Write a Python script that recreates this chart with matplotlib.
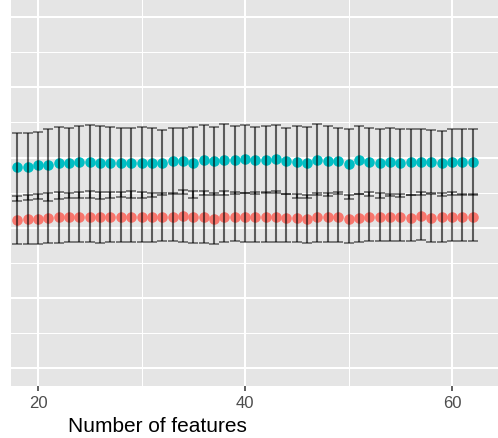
import matplotlib.pyplot as plt
import numpy as np

plt.rcParams['font.family'] = ['Liberation Sans', 'DejaVu Sans']

# number of features on the x axis
n_features = list(range(18, 63))

# cyan series (mean and sd)
cyan_mean = [0.786, 0.787, 0.789, 0.790, 0.792, 0.793, 0.794, 0.794, 0.793, 0.793, 0.793, 0.793, 0.793, 0.793, 0.793, 0.795,
             0.795, 0.793, 0.796, 0.795, 0.797, 0.796, 0.798, 0.796, 0.797, 0.798, 0.795, 0.794, 0.793, 0.797, 0.795,
             0.795, 0.791, 0.796, 0.794, 0.792, 0.794, 0.792, 0.794, 0.794, 0.794, 0.792, 0.794, 0.794, 0.794]
cyan_sd = [0.0484, 0.0479, 0.0474, 0.0512, 0.0512, 0.0498, 0.0512, 0.0517, 0.0517, 0.0503, 0.0493, 0.0498, 0.0503, 0.0488, 0.0469, 0.0474,
           0.0469, 0.0507, 0.0498, 0.0479, 0.0507, 0.0484, 0.0479, 0.0474, 0.0479, 0.0484, 0.0474, 0.0512, 0.0503, 0.0503, 0.0493,
           0.0474, 0.0498, 0.0484, 0.0484, 0.0488, 0.0488, 0.0484, 0.0474, 0.0474, 0.0450, 0.0465, 0.0465, 0.0469, 0.0465]

# red series (mean and sd)
red_mean = [0.711, 0.712, 0.713, 0.714, 0.715, 0.715, 0.715, 0.716, 0.715, 0.715, 0.715, 0.716, 0.715, 0.715, 0.715, 0.716,
            0.717, 0.716, 0.716, 0.713, 0.716, 0.716, 0.715, 0.716, 0.716, 0.716, 0.714, 0.714, 0.713, 0.715, 0.715,
            0.716, 0.713, 0.714, 0.716, 0.715, 0.715, 0.715, 0.714, 0.717, 0.714, 0.715, 0.716, 0.715, 0.715]
red_sd = [0.0341, 0.0351, 0.0356, 0.0360, 0.0360, 0.0346, 0.0356, 0.0365, 0.0360, 0.0356, 0.0356, 0.0360, 0.0356, 0.0351, 0.0341, 0.0341,
          0.0375, 0.0370, 0.0370, 0.0360, 0.0360, 0.0351, 0.0346, 0.0356, 0.0356, 0.0360, 0.0337, 0.0346, 0.0341, 0.0351, 0.0346,
          0.0356, 0.0341, 0.0341, 0.0346, 0.0341, 0.0332, 0.0337, 0.0322, 0.0346, 0.0341, 0.0351, 0.0346, 0.0332, 0.0332]

x_ticks = [20, 40, 60]
x_minor = [30, 50]
y_major = [0.5, 0.6, 0.7, 0.8, 0.9, 1.0]
y_minor = [0.55, 0.65, 0.75, 0.85, 0.95]

fig = plt.figure(figsize=(4.98, 4.39), dpi=100)
ax = fig.add_axes([11 / 498, 52 / 439, 487 / 498, 386 / 439])
ax.set_facecolor('#E5E5E5')

# 网格
for y in y_minor:
    ax.axhline(y, color='white', lw=0.75, zorder=0)
for y in y_major:
    ax.axhline(y, color='white', lw=1.45, zorder=0)
for x in x_minor:
    ax.axvline(x, color='white', lw=0.75, zorder=0)
for x in x_ticks:
    ax.axvline(x, color='white', lw=1.45, zorder=0)

ax.plot(n_features, cyan_mean, 'o', color='#00BFC4', ms=7.6, mew=0, zorder=2)
ax.plot(n_features, red_mean, 'o', color='#F8766D', ms=7.6, mew=0, zorder=2)
ax.errorbar(n_features, cyan_mean, yerr=cyan_sd, fmt='none', ecolor='black', alpha=0.6,
            elinewidth=1.5, capsize=3.3, capthick=1.1, zorder=3)
ax.errorbar(n_features, red_mean, yerr=red_sd, fmt='none', ecolor='black', alpha=0.6,
            elinewidth=1.5, capsize=3.3, capthick=1.1, zorder=3)

ax.set_xlim(17.39, 64.44)
ax.set_ylim(0.4751, 1.0242)
ax.set_xticks(x_ticks)
ax.set_xticklabels([str(t) for t in x_ticks], fontsize=12, color='#4D4D4D')
ax.set_yticks([])
ax.tick_params(axis='x', length=3.5, width=1.1, color='#333333', pad=3)
for s in ax.spines.values():
    s.set_visible(False)

fig.text(157 / 498, 1 - 427 / 439, 'Number of features', fontsize=15, color='black',
         ha='center', va='center')

fig.savefig('out.png', dpi=100)
